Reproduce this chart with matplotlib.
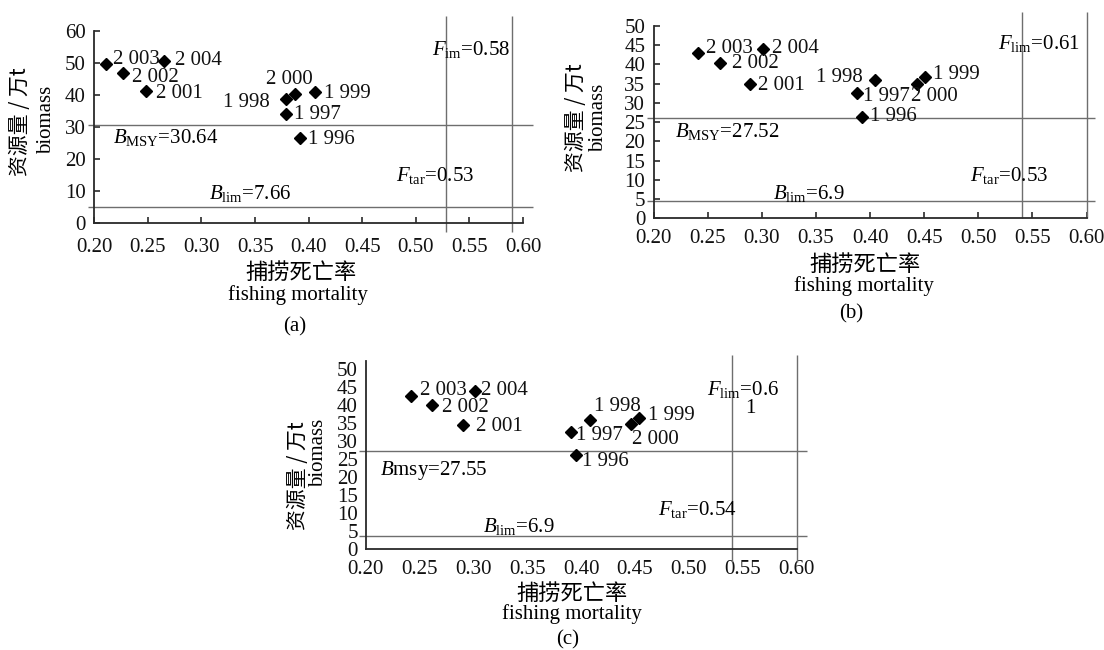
import matplotlib
matplotlib.use('Agg')
import matplotlib.pyplot as plt

plt.rcParams['font.family'] = ['Liberation Serif', 'Noto Sans CJK SC']
plt.rcParams['mathtext.fontset'] = 'custom'
plt.rcParams['mathtext.rm'] = 'Liberation Serif'
plt.rcParams['mathtext.it'] = 'Liberation Serif:italic'

# 年份标签
years = ['1 996', '1 997', '1 998', '1 999', '2 000', '2 001', '2 002', '2 003', '2 004']

# (a)
a_f = [0.392, 0.379, 0.379, 0.406, 0.387, 0.248, 0.227, 0.211, 0.265]
a_b = [26.5, 33.9, 38.6, 40.7, 40.3, 41.1, 46.8, 49.5, 50.6]
a_hlines = [30.4, 4.9]
a_vlines = [0.528, 0.59]

# (b)
b_f = [0.393, 0.388, 0.405, 0.451, 0.443, 0.289, 0.261, 0.241, 0.301]
b_b = [26.2, 32.6, 36.0, 36.6, 35.0, 35.0, 40.4, 42.9, 44.1]
b_hlines = [26.1, 4.6]
b_vlines = [0.54, 0.60]

# (c)
c_f = [0.395, 0.391, 0.408, 0.454, 0.446, 0.290, 0.262, 0.242, 0.302]
c_b = [26.2, 32.6, 35.9, 36.6, 34.8, 34.6, 40.1, 42.6, 44.1]
c_hlines = [27.3, 3.7]
c_vlines = [0.54, 0.60]

xticks = [0.20, 0.25, 0.30, 0.35, 0.40, 0.45, 0.50, 0.55, 0.60]

# 标签偏移 (像素) 和对齐
a_off = [(8, -2, 'left'), (8, 0, 'left'), (-16, -3, 'right'), (9, -1, 'left'),
         (-5, 14, 'center'), (10, -2, 'left'), (9, -5, 'left'), (7, 5, 'left'), (11, 0, 'left')]
b_off = [(8, 1, 'left'), (6, -4, 'left'), (-13, 2, 'right'), (8, 3, 'left'),
         (-6, -13, 'left'), (8, -2, 'left'), (12, -1, 'left'), (8, 5, 'left'), (9, 0, 'left')]
c_off = [(6, -7, 'left'), (5, -4, 'left'), (4, 14, 'left'), (9, 2, 'left'),
         (1, -15, 'left'), (13, -2, 'left'), (10, -3, 'left'), (9, 5, 'left'), (6, 0, 'left')]

W, H = 1104, 650
fig = plt.figure(figsize=(W / 100, H / 100), dpi=100)

line_c = '#6e6e6e'
axis_c = '#2a2a2a'
fs = 15


def px_axes(x0, y0, x1, y1):
    # 像素坐标 -> figure 坐标
    return fig.add_axes([x0 / W, 1 - y1 / H, (x1 - x0) / W, (y1 - y0) / H])


def panel(ax, f, b, off, hl, vl, ylim, ymax_tick, ystep, ytop_spine, vbot, ticklen, xpad, ypad):
    ax.set_ylim(0, ylim)
    for s in ['top', 'right']:
        ax.spines[s].set_visible(False)
    ax.spines['left'].set_bounds(0, ytop_spine)
    ax.spines['bottom'].set_bounds(0.2, 0.6)
    for s in ['left', 'bottom']:
        ax.spines[s].set_color(axis_c)
        ax.spines[s].set_linewidth(1.3)
    ax.set_xticks(xticks)
    ax.set_xticklabels(['%.2f' % v for v in xticks])
    yt = list(range(0, ymax_tick + 1, ystep))
    ax.set_yticks(yt)
    ax.tick_params(axis='both', direction='in', length=ticklen, width=1.2,
                   color=axis_c, labelsize=fs, labelcolor='#111111')
    ax.tick_params(axis='x', pad=xpad)
    ax.tick_params(axis='y', pad=ypad)
    x_hi = ax.get_xlim()[1]
    for h in hl:
        ax.hlines(h, 0.194, x_hi, color=line_c, lw=1.0, clip_on=False)
    for v in vl:
        ax.vlines(v, vbot, ylim, color=line_c, lw=1.0, clip_on=False)
    ax.plot(f, b, 'D', color='black', ms=6, ls='none', clip_on=False)
    for xi, yi, lab, (dx, dy, ha) in zip(f, b, years, off):
        ax.annotate(lab, (xi, yi), xytext=(dx, dy), textcoords='offset pixels',
                    ha=ha, va='center', fontsize=fs, color='#111111')


# (a)
ax1 = px_axes(94.3, 16, 532.7, 222.7)
ax1.set_xlim(0.2, 0.609)
panel(ax1, a_f, a_b, a_off, a_hlines, a_vlines, 64.6, 60, 10, 60, -2.8, 4, 11, 6)
ax1.text(0.515, 54.0, r'$F_{\rm im}$=0.58', fontsize=fs, va='center')
ax1.text(0.4815, 14.9, r'$F_{\rm tar}$=0.53', fontsize=fs, va='center')
ax1.text(0.2176, 26.6, r'$B_{\rm MSY}$=30.64', fontsize=fs, va='center')
ax1.text(0.307, 9.2, r'$B_{\rm lim}$=7.66', fontsize=fs, va='center')

# (b)
ax2 = px_axes(653.5, 11.6, 1095.2, 218.3)
ax2.set_xlim(0.2, 0.608)
panel(ax2, b_f, b_b, b_off, b_hlines, b_vlines, 53.7, 50, 5, 50, 0, 4, 8, 6)
ax2.text(0.518, 45.5, r'$F_{\rm lim}$=0.61', fontsize=fs, va='center')
ax2.text(0.4927, 11.0, r'$F_{\rm tar}$=0.53', fontsize=fs, va='center')
ax2.text(0.2196, 22.5, r'$B_{\rm MSY}$=27.52', fontsize=fs, va='center')
ax2.text(0.3102, 6.5, r'$B_{\rm lim}$=6.9', fontsize=fs, va='center')

# (c)
ax3 = px_axes(365.5, 354.9, 807.5, 549.3)
ax3.set_xlim(0.2, 0.61)
panel(ax3, c_f, c_b, c_off, c_hlines, c_vlines, 54, 50, 5, 52.3, -3.5, 0, 7.5, 5.5)
ax3.text(0.517, 44.3, r'$F_{\rm lim}$=0.6', fontsize=fs, va='center')
ax3.text(0.5526, 39.2, '1', fontsize=fs, va='center')
ax3.text(0.4715, 11.1, r'$F_{\rm tar}$=0.54', fontsize=fs, va='center')
ax3.text(0.2139, 22.0, r'$B$msy=27.55', fontsize=fs, va='center')
ax3.text(0.3093, 6.3, r'$B_{\rm lim}$=6.9', fontsize=fs, va='center')

# 轴标题与子图编号 (像素位置)
labels = [
    # x中文, x英文, 编号, y中文, y英文
    ((301, 272), (298, 295), (295, 327), '(a)', (20, 122), (47, 120)),
    ((865, 264), (864, 286), (851, 314), '(b)', (576, 118), (599, 118)),
    ((572, 593), (572, 614), (568, 640), '(c)', (298, 476), (319, 453)),
]
for cn, en, tag, tag_s, ycn, yen in labels:
    fig.text(cn[0] / W, 1 - cn[1] / H, '捕捞死亡率', fontsize=16,
             ha='center', va='center', family='Noto Sans CJK SC')
    fig.text(en[0] / W, 1 - en[1] / H, 'fishing mortality', fontsize=fs,
             ha='center', va='center')
    fig.text(tag[0] / W, 1 - tag[1] / H, tag_s, fontsize=fs, ha='center', va='center')
    fig.text(ycn[0] / W, 1 - ycn[1] / H, '资源量 / 万t', fontsize=15, rotation=90,
             ha='center', va='center', family=['Noto Sans CJK SC', 'Liberation Serif'])
    fig.text(yen[0] / W, 1 - yen[1] / H, 'biomass', fontsize=fs, rotation=90,
             ha='center', va='center')

fig.savefig('out.png', dpi=100, facecolor='white')
